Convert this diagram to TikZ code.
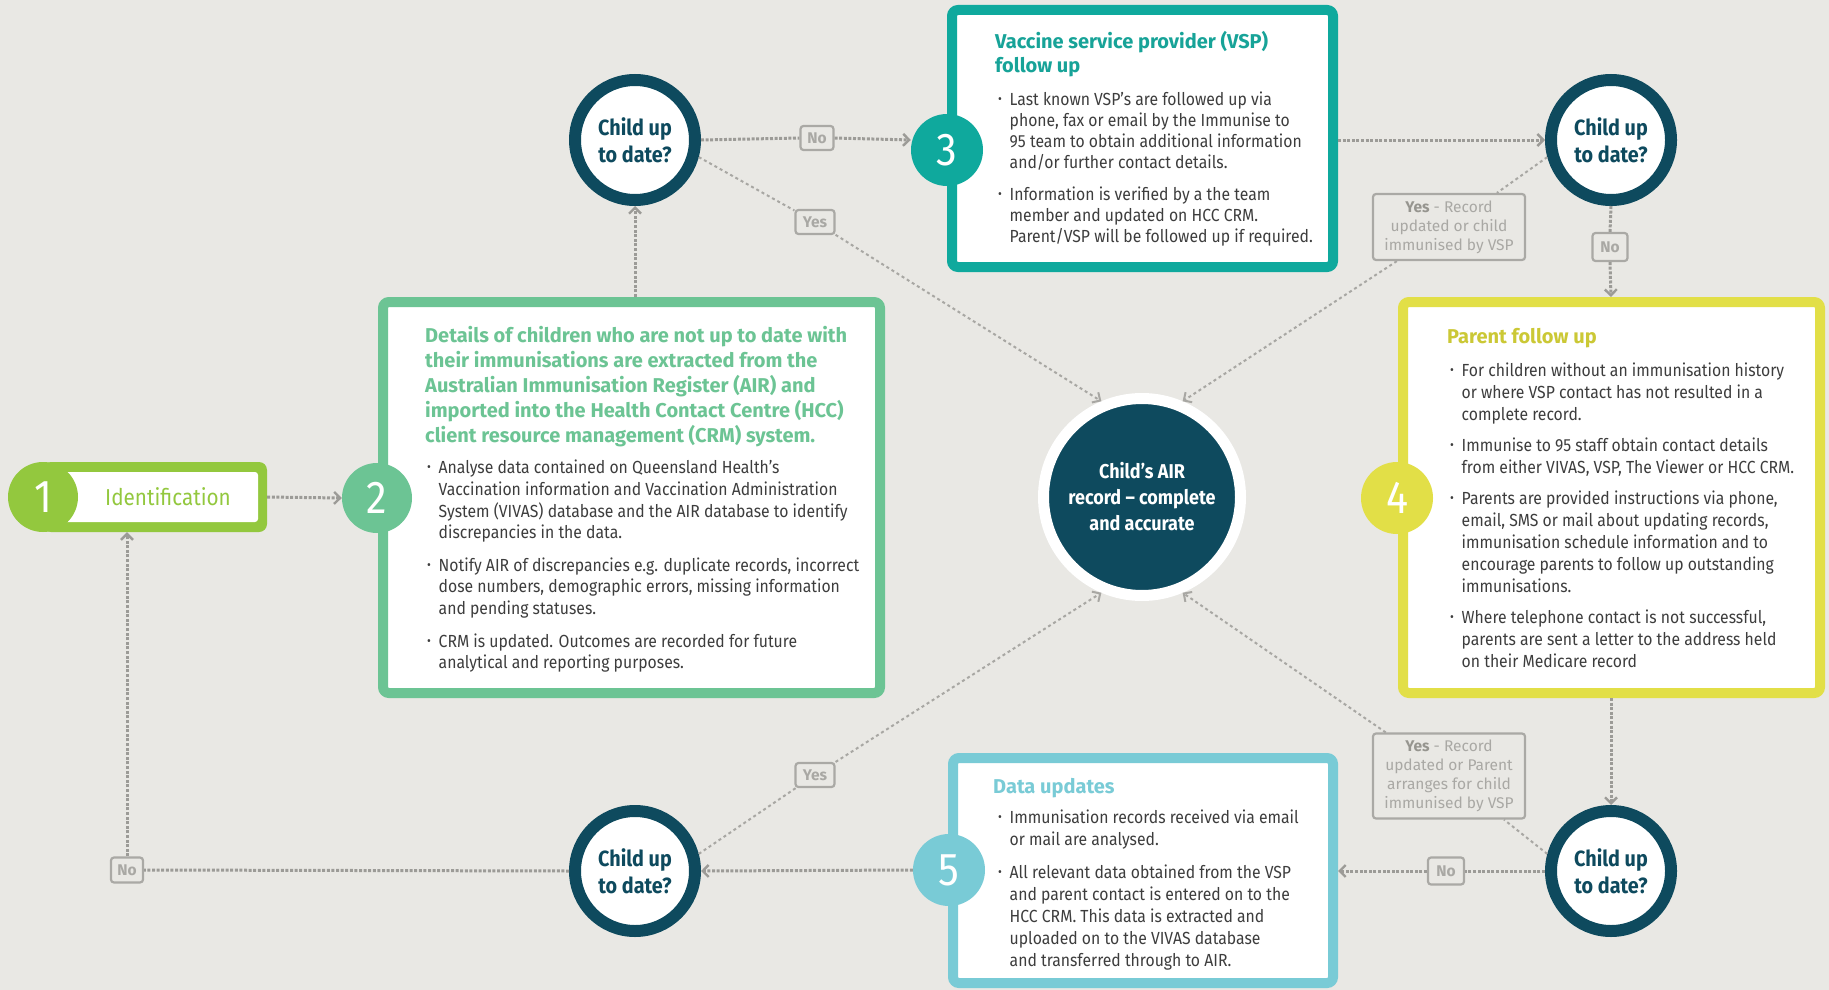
\documentclass[tikz,border=0pt]{standalone}
\usepackage{fontspec}
\setmainfont{Fira Sans}[FakeStretch=0.9]
\newfontfamily\labfont{Fira Sans}
\usetikzlibrary{arrows.meta}
\definecolor{bg}{HTML}{E9E8E4}
\definecolor{navy}{HTML}{0E4A5E}
\definecolor{lime}{HTML}{93C83E}
\definecolor{mint}{HTML}{6CC494}
\definecolor{teal}{HTML}{0FA99D}
\definecolor{yell}{HTML}{E2DF47}
\definecolor{lblue}{HTML}{79CBD6}
\definecolor{cgrey}{HTML}{9C9B97}
\definecolor{dgrey}{HTML}{A8A7A3}
\definecolor{lgrey}{HTML}{AAA9A5}
\definecolor{tgrey}{HTML}{A9A8A4}
\definecolor{tdark}{HTML}{96958F}
\definecolor{body}{HTML}{3D3D3D}
\definecolor{hmint}{HTML}{6CC494}
\definecolor{hteal}{HTML}{17A398}
\definecolor{hyell}{HTML}{CBC835}
\definecolor{hblue}{HTML}{79CBD6}
\newcommand\fs[2]{\fontsize{#1}{#2}\selectfont}
\newcommand\bu{\makebox[11.5pt][l]{\raisebox{2pt}{\fs{13}{13}\textbullet}}}
\newcommand\mylines[1]{\begin{tabular}{@{}l@{}}#1\end{tabular}}
\newcommand\blist[1]{\begin{tabular}{@{}l@{}l@{}}#1\end{tabular}}
\tikzset{
  box/.style={draw=#1, line width=10pt, fill=white, rounded corners=6pt, inner sep=0pt},
  num/.style={circle, fill=#1, text=white, inner sep=0pt, font=\fs{46}{46}},
  dec/.style={circle, draw=navy, line width=12pt, fill=white, minimum size=120pt, inner sep=0pt, text=navy, font=\bfseries\fs{22}{27}, align=center},
  conn/.style={draw=cgrey, line width=3pt, dash pattern=on 3pt off 1.6pt},
  arr/.style={conn, -{Straight Barb[length=6pt,width=12pt,line width=2.4pt]}},
  dconn/.style={draw=dgrey, line width=2pt, dash pattern=on 3pt off 3pt},
  darr/.style={dconn, -{Straight Barb[length=6pt,width=12pt,line width=2pt]}},
  lab/.style={draw=lgrey, line width=2.2pt, rounded corners=3pt, fill=bg, text=tgrey, font=\labfont\fs{15.5}{19}, inner sep=3pt, align=center},
  txt/.style={anchor=north west, inner sep=0pt, text=body},
  head/.style={txt, text=#1, font=\labfont\bfseries\fs{20}{25}},
}
\begin{document}
\begin{tikzpicture}[x=1pt,y=-1pt]
\useasboundingbox (0,0) rectangle (1829,990);
\fill[bg] (0,0) rectangle (1829,990);

% boxes
\node[box=mint, minimum width=497pt, minimum height=391pt] (b2) at (631.5,497.5) {};
\node[box=teal, minimum width=381pt, minimum height=257pt] (b3) at (1142.5,138.5) {};
\node[box=yell, minimum width=417pt, minimum height=391pt] (b4) at (1611.5,497.5) {};
\node[box=lblue, minimum width=380pt, minimum height=225pt] (b5) at (1143,870.5) {};

% identification pill
\node[fill=lime, rounded corners=8pt, minimum width=224pt, minimum height=70pt, inner sep=0pt] (id) at (155,497) {};
\node[fill=white, rounded corners=3pt, minimum width=197pt, minimum height=50pt, inner sep=0pt] (idw) at (159.5,497) {};
\node[text=lime, font=\fs{23}{23}, inner sep=0pt] (idlab) at (168,497) {Identification};

% number circles
\node[num=lime, minimum size=70pt] (c1) at (43,497) {1};
\node[num=mint, minimum size=70pt] (c2) at (377,498) {2};
\node[num=teal, minimum size=72pt] (c3) at (947,150) {3};
\node[num=yell, minimum size=72pt] (c4) at (1397,498) {4};
\node[num=lblue, minimum size=72pt] (c5) at (949,870) {5};

% box texts
\node[head=hmint] (h2) at (425,324.5) {\mylines{Details of children who are not up to date with\\their immunisations are extracted from the\\Australian Immunisation Register (AIR) and\\imported into the Health Contact Centre (HCC)\\client resource management (CRM) system.}};
\node[txt, font=\fs{17.5}{21.8}] (t2) at (427,458) {\blist{\bu & Analyse data contained on Queensland Health’s\\
 & Vaccination information and Vaccination Administration\\
 & System (VIVAS) database and the AIR database to identify\\
 & discrepancies in the data.\\[10.5pt]
\bu & Notify AIR of discrepancies e.g. duplicate records, incorrect\\
 & dose numbers, demographic errors, missing information\\
 & and pending statuses.\\[10.5pt]
\bu & CRM is updated. Outcomes are recorded for future\\
 & analytical and reporting purposes.}};

\node[head=hteal, font=\labfont\bfseries\fs{20}{24}] (h3) at (995,31.2) {\mylines{Vaccine service provider (VSP)\\follow up}};
\node[txt, font=\fs{17.5}{21}] (t3) at (998,90.5) {\blist{\bu & Last known VSP’s are followed up via\\
 & phone, fax or email by the Immunise to\\
 & 95 team to obtain additional information\\
 & and/or further contact details.\\[11pt]
\bu & Information is verified by a the team\\
 & member and updated on HCC CRM.\\
 & Parent/VSP will be followed up if required.}};

\node[head=hyell] (h4) at (1447,325.5) {\mylines{Parent follow up}};
\node[txt, font=\fs{17.5}{21.8}] (t4) at (1450,361.5) {\blist{\bu & For children without an immunisation history\\
 & or where VSP contact has not resulted in a\\
 & complete record.\\[9.5pt]
\bu & Immunise to 95 staff obtain contact details\\
 & from either VIVAS, VSP, The Viewer or HCC CRM.\\[9.5pt]
\bu & Parents are provided instructions via phone,\\
 & email, SMS or mail about updating records,\\
 & immunisation schedule information and to\\
 & encourage parents to follow up outstanding\\
 & immunisations.\\[9.5pt]
\bu & Where telephone contact is not successful,\\
 & parents are sent a letter to the address held\\
 & on their Medicare record}};

\node[head=hblue] (h5) at (993,775.5) {\mylines{Data updates}};
\node[txt, font=\fs{17.5}{22}] (t5) at (998,808) {\blist{\bu & Immunisation records received via email\\
 & or mail are analysed.\\[10.5pt]
\bu & All relevant data obtained from the VSP\\
 & and parent contact is entered on to the\\
 & HCC CRM. This data is extracted and\\
 & uploaded on to the VIVAS database\\
 & and transferred through to AIR.}};

% decision circles
\node[dec] (tl) at (635,140) {Child up\\to date?};
\node[dec] (tr) at (1611,140) {Child up\\to date?};
\node[dec] (bl) at (635,871) {Child up\\to date?};
\node[dec] (br) at (1611,871) {Child up\\to date?};

% centre
\node[circle, fill=navy, draw=white, line width=11pt, minimum size=197pt, inner sep=0pt, text=white, font=\bfseries\fs{20}{26}, align=center] (ctr) at (1142,497) {Child’s AIR\\record – complete\\and accurate};

% labels
\node[lab, font=\labfont\bfseries\fs{15.5}{19}, minimum width=33pt, minimum height=24pt, inner sep=0pt] (noA) at (817,138) {No};
\node[lab, font=\labfont\bfseries\fs{15.5}{19}, minimum width=39pt, minimum height=24pt, inner sep=0pt] (yesA) at (815,222) {Yes};
\node[lab, minimum width=152pt, minimum height=66pt] (yesB) at (1449,227) {{\bfseries\color{tdark}Yes} - Record\\updated or child\\immunised by VSP};
\node[lab, font=\labfont\bfseries\fs{15.5}{19}, minimum width=35pt, minimum height=28pt, inner sep=0pt] (noB) at (1610,247) {No};
\node[lab, minimum width=152pt, minimum height=85pt] (yesC) at (1449,776) {{\bfseries\color{tdark}Yes} - Record\\updated or Parent\\arranges for child\\immunised by VSP};
\node[lab, font=\labfont\bfseries\fs{15.5}{19}, minimum width=36pt, minimum height=27pt, inner sep=0pt] (noC) at (1446,871) {No};
\node[lab, font=\labfont\bfseries\fs{15.5}{19}, minimum width=39pt, minimum height=24pt, inner sep=0pt] (yesD) at (815,775) {Yes};
\node[lab, font=\labfont\bfseries\fs{15.5}{19}, minimum width=32pt, minimum height=25pt, inner sep=0pt] (noD) at (127,870) {No};

% connectors
\draw[arr] (id.east) -- (c2.west);
\draw[arr] (b2.north -| tl) -- (tl.south);
\draw[conn] (tl.east) -- (noA.west);
\draw[arr] (noA.east) -- (c3.west |- tl);
\draw[dconn] (tl.-15) -- (yesA);
\draw[darr] (yesA) -- (ctr.113);
\draw[arr] (b3.east |- tr) -- (tr.west);
\draw[dconn] (tr.195) -- (yesB);
\draw[darr] (yesB) -- (ctr.67);
\draw[conn] (tr.south) -- (noB.north);
\draw[arr] (noB.south) -- (b4.north -| tr);
\draw[arr] (b4.south -| br) -- (br.north);
\draw[dconn] (br.165) -- (yesC);
\draw[darr] (yesC) -- (ctr.-67);
\draw[conn] (br.west) -- (noC.east);
\draw[arr] (noC.west) -- (b5.east |- br);
\draw[arr] (c5.west) -- (bl.east);
\draw[dconn] (bl.15) -- (yesD);
\draw[darr] (yesD) -- (ctr.-113);
\draw[conn] (bl.west) -- (noD.east);
\draw[arr] (noD.north) -- (id.south -| noD);
\end{tikzpicture}
\end{document}
